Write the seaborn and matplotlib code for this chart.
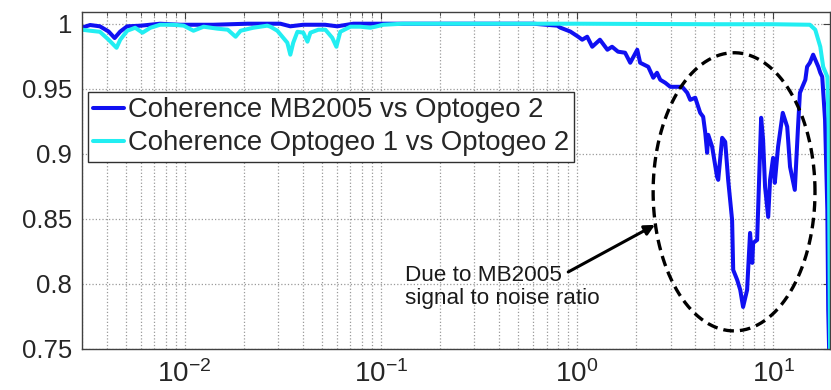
import numpy as np
import pandas as pd
import matplotlib
matplotlib.use("Agg")
import matplotlib.pyplot as plt
from matplotlib.ticker import FixedLocator, FixedFormatter, LogLocator, NullFormatter
import seaborn as sns

# Coherence MB2005 vs Optogeo 2
freq_mb = [0.003, 0.0033, 0.0037, 0.0041, 0.0044, 0.0047, 0.0051, 0.006, 0.0075, 0.0095,
           0.014, 0.021, 0.0308, 0.0346, 0.0403, 0.052, 0.060, 0.0725, 0.103, 0.13,
           0.286, 0.60, 0.794, 0.822, 0.925, 1.015, 1.064, 1.128, 1.197, 1.31,
           1.43, 1.51, 1.62, 1.76, 1.87, 2.03, 2.10, 2.31, 2.45, 2.56,
           2.66, 2.82, 2.99, 3.17, 3.44, 3.65, 3.78, 4.01, 4.25, 4.40,
           4.51, 4.61, 4.67, 4.89, 5.18, 5.25, 5.50, 5.70, 5.90, 6.18,
           6.26, 6.56, 6.80, 7.03, 7.37, 7.63, 7.83, 7.91, 8.29, 8.69,
           8.89, 9.10, 9.44, 9.65, 10.0, 10.2, 10.6, 11.2, 11.8, 12.2,
           12.9, 13.4, 13.7, 14.1, 14.6, 14.9, 15.4, 16.0, 17.0, 17.4,
           17.8, 18.4, 18.9, 19.1, 19.3, 19.6]
coh_mb = [0.997, 0.999, 0.998, 0.994, 0.989, 0.994, 0.998, 0.9985, 1.0, 0.9992,
          0.9992, 1.0, 1.0, 0.998, 0.9992, 0.9992, 0.998, 1.0, 1.0, 1.0,
          1.0, 1.0, 0.9985, 0.997, 0.994, 0.990, 0.9877, 0.990, 0.9823, 0.9877,
          0.980, 0.9823, 0.9785, 0.9777, 0.970, 0.980, 0.970, 0.9669, 0.9585, 0.9623,
          0.9569, 0.9546, 0.9515, 0.9515, 0.9515, 0.9469, 0.9415, 0.9431, 0.9315, 0.9285,
          0.9162, 0.9008, 0.9146, 0.9054, 0.8823, 0.880, 0.9123, 0.9092, 0.880, 0.8492,
          0.8108, 0.8031, 0.7954, 0.7823, 0.7954, 0.8392, 0.8162, 0.8315, 0.8338, 0.9277,
          0.9108, 0.8746, 0.8515, 0.880, 0.8969, 0.8777, 0.9054, 0.9315, 0.9208, 0.890,
          0.8723, 0.9208, 0.9469, 0.9515, 0.9569, 0.9669, 0.970, 0.9762, 0.9669, 0.9623,
          0.9592, 0.9262, 0.8569, 0.780, 0.75, 0.70]

# Coherence Optogeo 1 vs Optogeo 2
freq_opt = [0.003, 0.0033, 0.0037, 0.0041, 0.0045, 0.0047, 0.0051, 0.0056, 0.0061, 0.0067,
            0.0075, 0.0088, 0.0099, 0.0111, 0.0125, 0.0147, 0.0166, 0.0182, 0.0193, 0.0224,
            0.0264, 0.0274, 0.0297, 0.0334, 0.0346, 0.0358, 0.0376, 0.0403, 0.0423, 0.0438,
            0.0481, 0.0522, 0.0566, 0.0594, 0.0622, 0.070, 0.0787, 0.0885, 0.0938, 0.103,
            0.13, 0.286, 1.0, 5.0, 10.0, 15.4, 16.4, 17.4, 18.0, 18.9,
            19.2, 19.5, 19.8]
coh_opt = [0.9954, 0.9946, 0.9938, 0.9877, 0.9815, 0.9877, 0.9946, 0.9969, 0.9931, 0.9969,
           0.9992, 0.9992, 0.9985, 0.9946, 0.9977, 0.9962, 0.9954, 0.990, 0.9946, 0.9969,
           0.9985, 0.9977, 0.9946, 0.9854, 0.9762, 0.9854, 0.9938, 0.9931, 0.9862, 0.9931,
           0.9954, 0.9954, 0.9892, 0.9823, 0.9938, 0.9977, 0.9977, 0.9969, 0.9977, 0.9992,
           1.0, 1.0, 1.0, 0.9996, 0.9996, 0.9992, 0.9954, 0.9823, 0.9669, 0.9592,
           0.92, 0.76, 0.60]

series_labels = ["Coherence MB2005 vs Optogeo 2", "Coherence Optogeo 1 vs Optogeo 2"]
y_ticks = [0.75, 0.8, 0.85, 0.9, 0.95, 1.0]
y_tick_labels = ["0.75", "0.8", "0.85", "0.9", "0.95", "1"]
note_text = "Due to MB2005\nsignal to noise ratio"

df = pd.concat([
    pd.DataFrame({"freq": freq_mb, "coh": coh_mb, "series": series_labels[0]}),
    pd.DataFrame({"freq": freq_opt, "coh": coh_opt, "series": series_labels[1]}),
], ignore_index=True)

sns.set_style("white")
plt.rcParams["font.family"] = ["Liberation Sans", "DejaVu Sans"]
plt.rcParams["mathtext.fontset"] = "custom"
plt.rcParams["mathtext.rm"] = "Liberation Sans"
plt.rcParams["mathtext.it"] = "Liberation Sans:italic"

fig = plt.figure(figsize=(8.31, 3.90), dpi=100)
ax = fig.add_axes([82 / 831, 41 / 390, 748 / 831, 337 / 390])
ax.set_xscale("log")

palette = {series_labels[0]: "#1010f2", series_labels[1]: "#22eef2"}
sns.lineplot(data=df, x="freq", y="coh", hue="series", palette=palette,
             linewidth=2.9, ax=ax, sort=False, estimator=None)

ax.set_xlim(0.003, 19.5)
ax.set_ylim(0.75, 1.009)
ax.yaxis.set_major_locator(FixedLocator(y_ticks))
ax.yaxis.set_major_formatter(FixedFormatter(y_tick_labels))
ax.xaxis.set_major_locator(LogLocator(base=10, numticks=10))
ax.xaxis.set_minor_locator(LogLocator(base=10, subs=np.arange(2, 10), numticks=20))
ax.xaxis.set_minor_formatter(NullFormatter())
ax.set_xlabel("")
ax.set_ylabel("")

grid_kw = dict(linestyle=":", color="#9a9a9a", linewidth=0.9)
ax.grid(True, which="both", axis="x", **grid_kw)
ax.grid(True, which="major", axis="y", **grid_kw)
ax.set_axisbelow(True)

ax.tick_params(which="both", direction="in", top=True, right=True, color="#404040")
ax.tick_params(which="major", length=5, pad=7)
ax.tick_params(which="minor", length=3)
ax.tick_params(axis="y", which="major", labelsize=18.5)
ax.tick_params(axis="x", which="major", labelsize=20, pad=8)
for sp in ax.spines.values():
    sp.set_color("#404040")
    sp.set_linewidth(1.0)

leg = ax.legend(loc="upper left", bbox_to_anchor=(0.008, 0.763), borderaxespad=0,
                fontsize=19.8, frameon=True, fancybox=False, handlelength=1.1,
                handletextpad=0.15, borderpad=0.2, labelspacing=0.25)
leg.get_frame().set_edgecolor("#303030")
leg.get_frame().set_linewidth(1.0)
leg.get_frame().set_alpha(1.0)
for line in leg.get_lines():
    line.set_linewidth(2.9)

# dashed ellipse drawn in log-frequency space around the low-coherence band
t = np.linspace(0, 2 * np.pi, 400)
log_c, y_c, a_log, b_y = 0.801, 0.8708, 0.4126, 0.1069
ax.plot(10 ** (log_c + a_log * np.cos(t)), y_c + b_y * np.sin(t),
        color="black", linestyle=(0, (3.2, 1.8)), linewidth=2.4)

ax.annotate("", xy=(2.50, 0.8454), xytext=(0.903, 0.8092),
            arrowprops=dict(arrowstyle="-|>,head_length=0.6,head_width=0.3",
                            color="black", lw=2.2, shrinkA=0, shrinkB=0))
ax.text(0.1334, 0.7977, note_text, fontsize=16.2, ha="left", va="center",
        linespacing=1.1, color="#1a1a1a")

fig.savefig("out.png", dpi=100)
